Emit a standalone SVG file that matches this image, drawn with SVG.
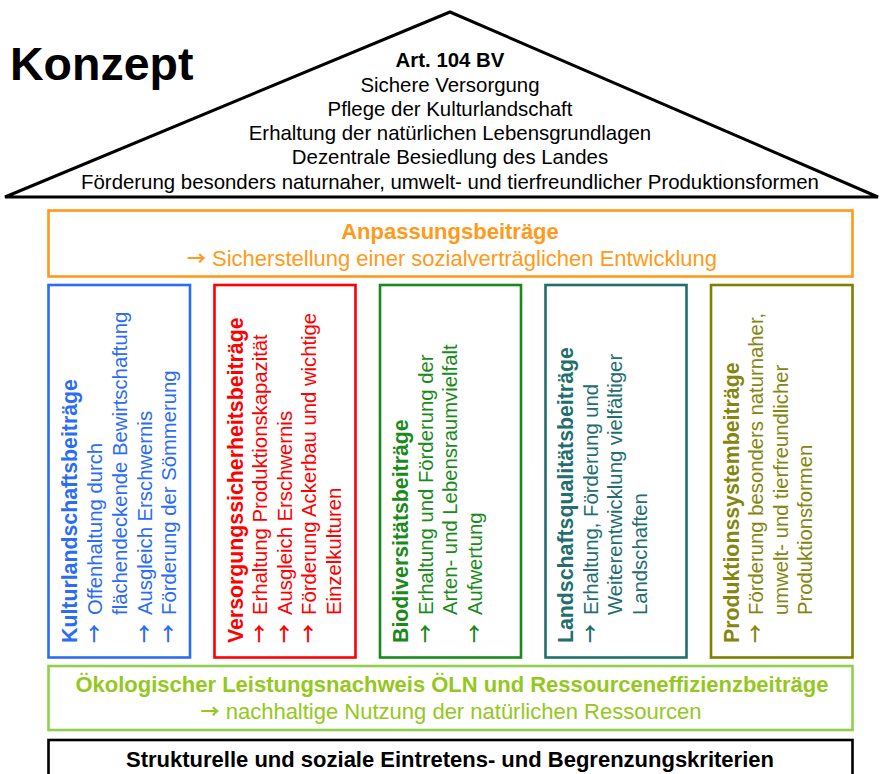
<svg xmlns="http://www.w3.org/2000/svg" width="881" height="774" viewBox="0 0 881 774">
<style>
text{font-family:"Liberation Sans",Arial,sans-serif}
.b{font-weight:bold}
.ar{font-family:"Noto Sans CJK SC","DejaVu Sans",sans-serif;font-size:19px;font-weight:bold}
.roof{font-size:20.4px;fill:#000;text-anchor:middle}
.box{font-size:22px;text-anchor:middle}
.pt{font-size:21.3px;font-weight:bold}
.pb{font-size:20.3px}
.frame{fill:#fff;stroke-width:2.6}
</style>
<rect width="881" height="774" fill="#fff"/>
<g id="title"><text x="10" y="80" class="b" font-size="46.5">Konzept</text></g>
<g id="roof">
<polygon points="450,12 5,197 878,197" fill="#fff" stroke="#000" stroke-width="3" stroke-linejoin="miter"/>
<text class="roof b" x="450" y="67">Art. 104 BV</text>
<text class="roof" x="450" y="92">Sichere Versorgung</text>
<text class="roof" x="450" y="116">Pflege der Kulturlandschaft</text>
<text class="roof" x="450" y="140">Erhaltung der natürlichen Lebensgrundlagen</text>
<text class="roof" x="450" y="164">Dezentrale Besiedlung des Landes</text>
<text class="roof" x="450" y="189">Förderung besonders naturnaher, umwelt- und tierfreundlicher Produktionsformen</text>
</g>
<g id="anpassung">
<rect class="frame" x="48.5" y="210.5" width="804" height="66" stroke="#FF9A1A"/>
<text class="box b" x="450" y="239" fill="#FF9A1A">Anpassungsbeiträge</text>
<text class="box" x="452" y="266" fill="#FF9A1A"><tspan class="ar">→</tspan> Sicherstellung einer sozialverträglichen Entwicklung</text>
</g>
<g id="kulturlandschaft">
<rect class="frame" x="48.5" y="285" width="141.5" height="372.5" stroke="#2B6CF6"/>
<g transform="translate(48,643) rotate(-90)" fill="#2B6CF6">
<text class="pt" x="0" y="29">Kulturlandschaftsbeiträge</text>
<text class="pb" y="54"><tspan class="ar" x="0">→</tspan><tspan x="28">Offenhaltung durch</tspan></text>
<text class="pb" x="28" y="79">flächendeckende Bewirtschaftung</text>
<text class="pb" y="103.5"><tspan class="ar" x="0">→</tspan><tspan x="28">Ausgleich Erschwernis</tspan></text>
<text class="pb" y="128"><tspan class="ar" x="0">→</tspan><tspan x="28">Förderung der Sömmerung</tspan></text>
</g>
</g>
<g id="versorgung">
<rect class="frame" x="214.5" y="285" width="141" height="372.5" stroke="#FF0000"/>
<g transform="translate(214,643) rotate(-90)" fill="#FF0000">
<text class="pt" x="0" y="28.5">Versorgungssicherheitsbeiträge</text>
<text class="pb" y="53"><tspan class="ar" x="0">→</tspan><tspan x="28">Erhaltung Produktionskapazität</tspan></text>
<text class="pb" y="77.5"><tspan class="ar" x="0">→</tspan><tspan x="28">Ausgleich Erschwernis</tspan></text>
<text class="pb" y="102"><tspan class="ar" x="0">→</tspan><tspan x="28">Förderung Ackerbau und wichtige</tspan></text>
<text class="pb" x="28" y="126.5">Einzelkulturen</text>
</g>
</g>
<g id="biodiversitaet">
<rect class="frame" x="380" y="285" width="141" height="372.5" stroke="#1A8A1A"/>
<g transform="translate(379.5,643) rotate(-90)" fill="#1A8A1A">
<text class="pt" x="0" y="28.5">Biodiversitätsbeiträge</text>
<text class="pb" y="53"><tspan class="ar" x="0">→</tspan><tspan x="28">Erhaltung und Förderung der</tspan></text>
<text class="pb" x="28" y="77.5">Arten- und Lebensraumvielfalt</text>
<text class="pb" y="102"><tspan class="ar" x="0">→</tspan><tspan x="28">Aufwertung</tspan></text>
</g>
</g>
<g id="landschaftsqualitaet">
<rect class="frame" x="545.5" y="285" width="141" height="372.5" stroke="#226E6E"/>
<g transform="translate(544.5,643) rotate(-90)" fill="#226E6E">
<text class="pt" x="0" y="28.5">Landschaftsqualitätsbeiträge</text>
<text class="pb" y="53"><tspan class="ar" x="0">→</tspan><tspan x="28">Erhaltung, Förderung und</tspan></text>
<text class="pb" x="28" y="77.5">Weiterentwicklung vielfältiger</text>
<text class="pb" x="28" y="102">Landschaften</text>
</g>
</g>
<g id="produktionssystem">
<rect class="frame" x="711" y="285" width="141.5" height="372.5" stroke="#808000"/>
<g transform="translate(710.5,643) rotate(-90)" fill="#858510">
<text class="pt" x="0" y="28">Produktionssystembeiträge</text>
<text class="pb" y="52.5"><tspan class="ar" x="0">→</tspan><tspan x="28">Förderung besonders naturnaher,</tspan></text>
<text class="pb" x="28" y="77">umwelt- und tierfreundlicher</text>
<text class="pb" x="28" y="101.5">Produktionsformen</text>
</g>
</g>
<g id="oeln">
<rect class="frame" x="48.5" y="666" width="804" height="64" stroke="#8FD14F"/>
<text class="box b" x="452" y="692" fill="#94C820">Ökologischer Leistungsnachweis ÖLN und Ressourceneffizienzbeiträge</text>
<text class="box" x="451" y="719" fill="#94C820"><tspan class="ar">→</tspan> nachhaltige Nutzung der natürlichen Ressourcen</text>
</g>
<g id="kriterien">
<rect class="frame" x="48.5" y="740" width="804" height="50" stroke="#000"/>
<text class="box b" x="450" y="767" fill="#000">Strukturelle und soziale Eintretens- und Begrenzungskriterien</text>
</g>
<g id="connectors"></g>
</svg>
